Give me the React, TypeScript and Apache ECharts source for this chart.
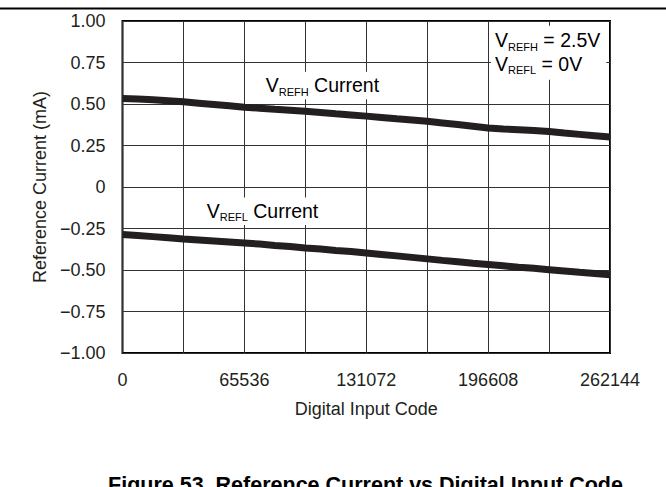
import React, { useEffect, useRef } from "react";
import * as echarts from "echarts";

const codes: number[] = [
  0, 8192, 16384, 24576, 32768, 40960, 49152, 57344, 65536, 73728, 81920,
  90112, 98304, 106496, 114688, 122880, 131072, 139264, 147456, 155648,
  163840, 172032, 180224, 188416, 196608, 204800, 212992, 221184, 229376,
  237568, 245760, 253952, 262144,
];

const vrefhCurrent: number[] = [
  0.533, 0.53, 0.525, 0.519, 0.513, 0.505, 0.497, 0.489, 0.481, 0.475, 0.468,
  0.462, 0.456, 0.449, 0.441, 0.434, 0.427, 0.419, 0.411, 0.404, 0.396, 0.386,
  0.376, 0.366, 0.356, 0.35, 0.345, 0.34, 0.334, 0.325, 0.317, 0.309, 0.301,
];

const vreflCurrent: number[] = [
  -0.286, -0.292, -0.299, -0.306, -0.313, -0.319, -0.325, -0.331, -0.337,
  -0.344, -0.352, -0.359, -0.367, -0.374, -0.382, -0.389, -0.397, -0.406,
  -0.415, -0.424, -0.433, -0.442, -0.45, -0.459, -0.467, -0.475, -0.483,
  -0.49, -0.498, -0.506, -0.514, -0.521, -0.529,
];

const xTickLabels: number[] = [0, 65536, 131072, 196608, 262144];
const yTickLabels: string[] = [
  "−1.00", "−0.75", "−0.50", "−0.25", "0", "0.25", "0.50", "0.75", "1.00",
];

const FONT = "'Liberation Sans', Arial, sans-serif";
const TXT = "#231f20";

export default function App() {
  const ref = useRef<HTMLDivElement>(null);
  useEffect(() => {
    if (!ref.current) return;
    const chart = echarts.init(ref.current, null, { renderer: "svg" });
    const sub = {
      n: { fontSize: 19.5, lineHeight: 23.5, fontFamily: FONT, color: TXT },
      s: { fontSize: 11, lineHeight: 7.5, fontFamily: FONT, color: TXT, verticalAlign: "bottom" },
    };
    chart.setOption({
      animation: false,
      backgroundColor: "#fff",
      grid: {
        left: 122.5,
        right: 56,
        top: 21,
        bottom: 134,
        show: true,
        borderColor: "#000",
        borderWidth: 2,
        backgroundColor: "transparent",
      },
      xAxis: {
        type: "value",
        min: 0,
        max: 262144,
        interval: 32768,
        name: "Digital Input Code",
        nameLocation: "middle",
        nameGap: 47,
        nameTextStyle: { fontSize: 18, fontFamily: FONT, color: TXT },
        axisLine: { show: false },
        axisTick: { show: false },
        splitLine: { show: true, lineStyle: { color: "#333", width: 1 } },
        axisLabel: {
          margin: 18,
          fontSize: 18,
          fontFamily: FONT,
          color: TXT,
          formatter: (v: number) => (xTickLabels.indexOf(v) >= 0 ? String(v) : ""),
        },
      },
      yAxis: {
        type: "value",
        min: -1,
        max: 1,
        interval: 0.25,
        name: "Reference Current (mA)",
        nameLocation: "middle",
        nameGap: 68,
        nameTextStyle: { fontSize: 18, fontFamily: FONT, color: TXT },
        axisLine: { show: false },
        axisTick: { show: false },
        splitLine: { show: true, lineStyle: { color: "#333", width: 1 } },
        axisLabel: {
          margin: 17,
          fontSize: 18,
          fontFamily: FONT,
          color: TXT,
          formatter: (v: number) => yTickLabels[Math.round((v + 1) / 0.25)] ?? "",
        },
      },
      series: [
        {
          name: "VREFH Current",
          type: "line",
          showSymbol: false,
          data: codes.map((c, i) => [c, vrefhCurrent[i]]),
          lineStyle: { color: "#231f20", width: 7 },
          z: 3,
        },
        {
          name: "VREFL Current",
          type: "line",
          showSymbol: false,
          data: codes.map((c, i) => [c, vreflCurrent[i]]),
          lineStyle: { color: "#231f20", width: 7 },
          z: 3,
        },
      ],
      graphic: [
        { type: "rect", shape: { x: 0, y: 7.5, width: 666, height: 2 }, style: { fill: "#000" } },
        {
          type: "text",
          x: 491,
          y: 25.7,
          z: 10,
          style: {
            text: "{n|V}{s|REFH}{n| = 2.5V}\n{n|V}{s|REFL}{n| = 0V}",
            rich: sub,
            backgroundColor: "#fff",
            padding: [3, 6, 4, 4],
          },
        },
        {
          type: "text",
          x: 262.7,
          y: 71.7,
          z: 10,
          style: {
            text: "{n|V}{s|REFH}{n| Current}",
            rich: sub,
            backgroundColor: "#fff",
            padding: [2, 3, 2, 3],
          },
        },
        {
          type: "text",
          x: 203.7,
          y: 197.4,
          z: 10,
          style: {
            text: "{n|V}{s|REFL}{n| Current}",
            rich: sub,
            backgroundColor: "#fff",
            padding: [2, 3, 2, 3],
          },
        },
        {
          type: "text",
          x: 365.5,
          y: 485.4,
          z: 10,
          style: {
            text: "Figure 53. Reference Current vs Digital Input Code",
            fontSize: 21.5,
            fontWeight: "bold",
            fontFamily: FONT,
            fill: "#000",
            align: "center",
            verticalAlign: "middle",
          },
        },
      ],
    });
    return () => chart.dispose();
  }, []);
  return (
    <div
      ref={ref}
      style={{ position: "absolute", left: 0, top: 0, width: 666, height: 487 }}
    />
  );
}
